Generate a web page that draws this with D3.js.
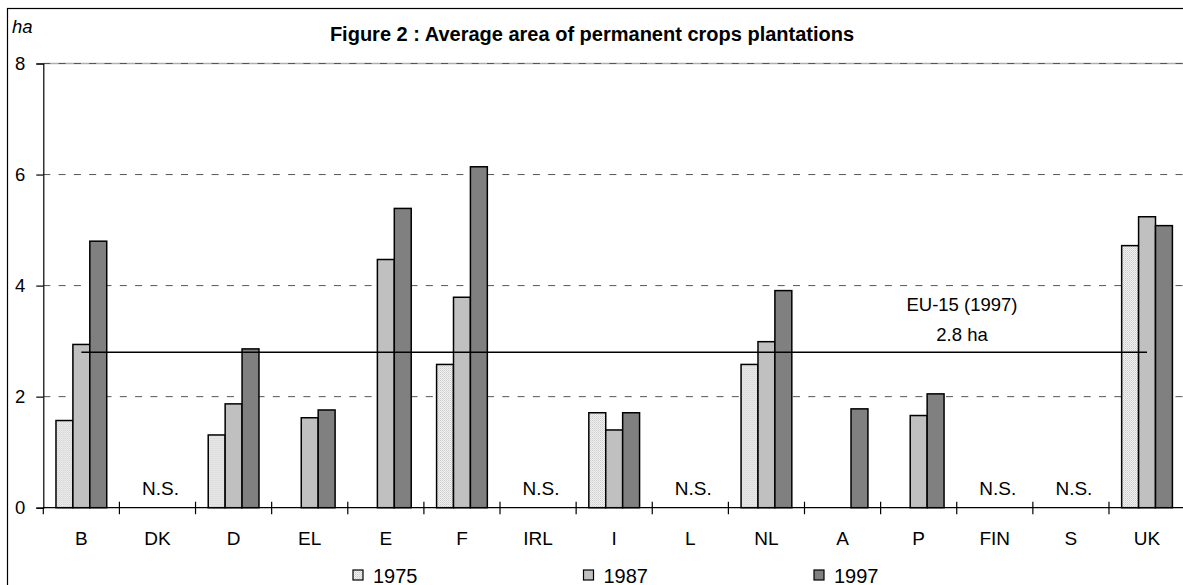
<!DOCTYPE html>
<html>
<head>
<meta charset="utf-8">
<script src="https://cdn.jsdelivr.net/npm/d3@7"></script>
<style>
  html, body { margin: 0; padding: 0; background: #fff; }
  svg { display: block; font-family: Arial, "Liberation Sans", sans-serif; }
</style>
</head>
<body>
<svg id="chart" width="1183" height="585"></svg>
<script>
// Member states, in the order printed along the x axis
const categories = ["B", "DK", "D", "EL", "E", "F", "IRL", "I", "L", "NL", "A", "P", "FIN", "S", "UK"];
const seriesNames = ["1975", "1987", "1997"];

// Average plantation area (ha); null = no bar for that year
const values1975 = [1.57, null, 1.31, null, null, 2.58, null, 1.71, null, 2.58, null, null, null, null, 4.72];
const values1987 = [2.94, null, 1.87, 1.62, 4.47, 3.79, null, 1.40, null, 2.99, null, 1.66, null, null, 5.24];
const values1997 = [4.80, null, 2.86, 1.76, 5.39, 6.14, null, 1.71, null, 3.91, 1.78, 2.05, null, null, 5.08];

// Countries marked as not significant
const notSignificant = ["DK", "IRL", "L", "FIN", "S"];

const yTicks = [0, 2, 4, 6, 8];
const euAverage = 2.8;
const euLabel = ["EU-15 (1997)", "2.8 ha"];
const titleText = "Figure 2 : Average area of permanent crops plantations";
const unitLabel = "ha";

const seriesValues = [values1975, values1987, values1997];

const svg = d3.select("#chart");

// Plot frame
const plot = { left: 43.3, right: 1185.1, top: 63.5, bottom: 507.7 };

const x = d3.scaleBand().domain(categories).range([plot.left, plot.right]).paddingInner(0).paddingOuter(0);
const xs = d3.scaleBand().domain(seriesNames).range([0, x.bandwidth()]).paddingInner(0).paddingOuter(0.75);
const y = d3.scaleLinear().domain([0, 8]).range([plot.bottom, plot.top]);

// Fill styles per series
const defs = svg.append("defs");
const pat = defs.append("pattern")
  .attr("id", "dots1975").attr("patternUnits", "userSpaceOnUse")
  .attr("width", 2).attr("height", 2);
pat.append("rect").attr("width", 2).attr("height", 2).attr("fill", "#f4f4f4");
pat.append("rect").attr("width", 1).attr("height", 1).attr("fill", "#c8c8c8");
pat.append("rect").attr("x", 1).attr("y", 1).attr("width", 1).attr("height", 1).attr("fill", "#d8d8d8");
const fills = { "1975": "url(#dots1975)", "1987": "#c0c0c0", "1997": "#808080" };

// Outer chart border
svg.append("rect")
  .attr("x", 7.5).attr("y", 8.5).attr("width", 1200).attr("height", 600)
  .attr("fill", "none").attr("stroke", "#000").attr("stroke-width", 1.2);

// Gridlines
const grid = svg.append("g");
grid.append("line")
  .attr("x1", plot.left).attr("x2", plot.right)
  .attr("y1", y(8)).attr("y2", y(8))
  .attr("stroke", "#b0b0b0").attr("stroke-width", 1.5);
grid.selectAll("line.g").data(yTicks.filter(d => d > 0)).join("line")
  .attr("class", "g")
  .attr("x1", plot.left).attr("x2", plot.right)
  .attr("y1", d => y(d)).attr("y2", d => y(d))
  .attr("stroke", "#555").attr("stroke-width", 1)
  .attr("stroke-dasharray", "7,8.3");

// Y axis
const yAxis = d3.axisLeft(y).tickValues(yTicks).tickSize(7).tickPadding(11).tickFormat(d3.format("d"));
const gy = svg.append("g").attr("transform", `translate(${plot.left},0)`).call(yAxis);
gy.select(".domain").attr("stroke", "#000").attr("stroke-width", 1.2);
gy.selectAll(".tick line").attr("stroke", "#000").attr("stroke-width", 1.2);
gy.selectAll(".tick text").attr("font-size", 18.5).attr("fill", "#000").attr("font-family", "Arial, 'Liberation Sans', sans-serif");

// Bars
const groups = svg.append("g").selectAll("g").data(categories).join("g")
  .attr("transform", d => `translate(${x(d)},0)`);
groups.selectAll("rect")
  .data((c, i) => seriesNames.map((s, k) => ({ s, v: seriesValues[k][i] })).filter(d => d.v != null))
  .join("rect")
  .attr("x", d => xs(d.s))
  .attr("width", xs.bandwidth())
  .attr("y", d => y(d.v))
  .attr("height", d => y(0) - y(d.v))
  .attr("fill", d => fills[d.s])
  .attr("stroke", "#000").attr("stroke-width", 1.5);

// X axis line and cross ticks at category boundaries
const gx = svg.append("g");
gx.append("line")
  .attr("x1", plot.left).attr("x2", plot.right)
  .attr("y1", y(0)).attr("y2", y(0))
  .attr("stroke", "#000").attr("stroke-width", 1.2);
gx.selectAll("line.t").data(categories).join("line")
  .attr("class", "t")
  .attr("x1", d => x(d)).attr("x2", d => x(d))
  .attr("y1", (d, i) => i === 0 ? y(0) : y(0) - 6).attr("y2", y(0) + 6.5)
  .attr("stroke", "#000").attr("stroke-width", 1.2);
gx.selectAll("text").data(categories).join("text")
  .attr("x", d => x(d) + x.bandwidth() / 2)
  .attr("y", 545)
  .attr("text-anchor", "middle")
  .attr("font-size", 19)
  .text(d => d);

// N.S. markers
svg.append("g").selectAll("text").data(notSignificant).join("text")
  .attr("x", d => x(d) + x.bandwidth() / 2 + 3)
  .attr("y", 495)
  .attr("text-anchor", "middle")
  .attr("font-size", 19)
  .text("N.S.");

// EU-15 average reference line
svg.append("line")
  .attr("x1", x(categories[0]) + x.bandwidth() / 2)
  .attr("x2", x(categories[categories.length - 1]) + x.bandwidth() / 2)
  .attr("y1", y(euAverage)).attr("y2", y(euAverage))
  .attr("stroke", "#000").attr("stroke-width", 1.5);
svg.append("g").selectAll("text").data(euLabel).join("text")
  .attr("x", 962)
  .attr("y", (d, i) => 311 + i * 30)
  .attr("text-anchor", "middle")
  .attr("font-size", 18.5)
  .text(d => d);

// Title and unit
svg.append("text")
  .attr("x", 592).attr("y", 41)
  .attr("text-anchor", "middle")
  .attr("font-size", 20).attr("font-weight", "bold")
  .text(titleText);
svg.append("text")
  .attr("x", 12).attr("y", 33)
  .attr("font-size", 18.5).attr("font-style", "italic")
  .text(unitLabel);

// Legend
const legendX = d3.scalePoint().domain(seriesNames).range([353, 814]);
const lg = svg.append("g").selectAll("g").data(seriesNames).join("g")
  .attr("transform", d => `translate(${legendX(d)},0)`);
lg.append("rect")
  .attr("x", 0).attr("y", 570).attr("width", 10).attr("height", 10)
  .attr("fill", d => fills[d]).attr("stroke", "#000").attr("stroke-width", 1.2);
lg.append("text")
  .attr("x", 20).attr("y", 582.5)
  .attr("font-size", 20)
  .text(d => d);
</script>
</body>
</html>
